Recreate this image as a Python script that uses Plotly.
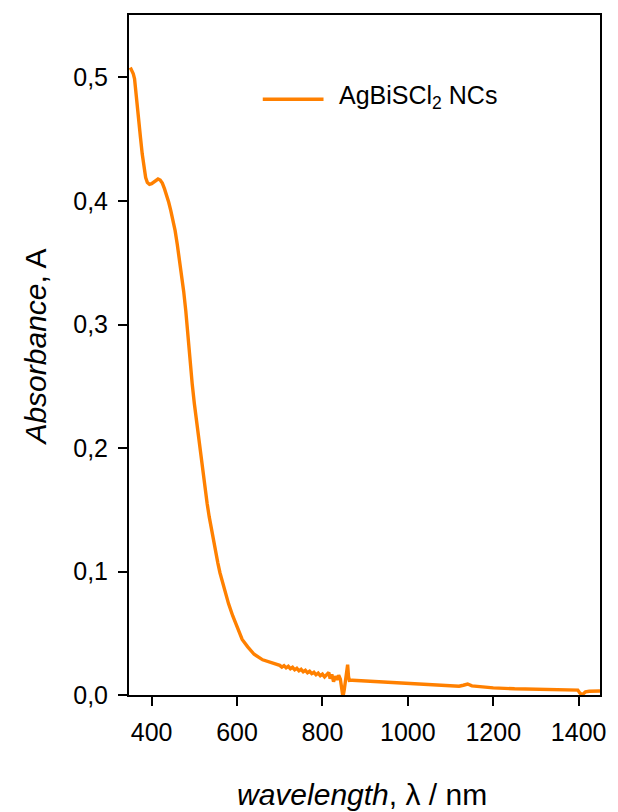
import plotly.graph_objects as go

# UV-Vis-NIR absorption spectrum of AgBiSCl2 nanocrystals
wavelength_nm = [
    350, 353, 357, 360, 363, 366, 370, 374, 378, 382, 386, 390, 395, 400,
    405, 410, 415, 420, 425, 430, 435, 440, 445, 450, 455, 460, 465, 470,
    475, 480, 485, 490, 495, 500, 505, 510, 515, 520, 525, 530, 535, 540,
    545, 550, 555, 560, 570, 580, 590, 600, 612, 625, 640, 660, 680, 700,
    705, 710, 715, 720, 725, 730, 735, 740, 745, 750, 755, 760, 765, 770,
    775, 780, 785, 790, 795, 800, 805, 810, 815, 818, 822, 826, 830, 834,
    838, 842, 845, 848, 851, 854, 857, 859, 861, 863, 870, 880, 900, 950,
    1000, 1050, 1100, 1120, 1130, 1140, 1150, 1170, 1200, 1250, 1300, 1350,
    1390, 1398, 1403, 1407, 1411, 1416, 1425, 1440, 1450,
]
absorbance = [
    0.508, 0.506, 0.503, 0.499, 0.490, 0.480, 0.466, 0.451, 0.438, 0.427,
    0.419, 0.415, 0.4135, 0.414, 0.4155, 0.417, 0.4178, 0.417, 0.4145, 0.410,
    0.405, 0.399, 0.392, 0.385, 0.376, 0.365, 0.353, 0.340, 0.327, 0.311,
    0.290, 0.270, 0.252, 0.236, 0.222, 0.208, 0.194, 0.180, 0.167, 0.155,
    0.144, 0.134, 0.124, 0.115, 0.107, 0.099, 0.086, 0.074, 0.064, 0.056,
    0.045, 0.039, 0.033, 0.0285, 0.026, 0.024,
    0.0226, 0.0238, 0.0220, 0.0232, 0.0213, 0.0224, 0.0204, 0.0216, 0.0196,
    0.0208, 0.0188, 0.0200, 0.0180, 0.0192, 0.0173, 0.0184, 0.0164, 0.0177,
    0.0156, 0.0169, 0.0146, 0.0162, 0.0182, 0.0133, 0.0167, 0.0108, 0.0152,
    0.0123, 0.0160, 0.0128, 0.0060, -0.0015, 0.0040, 0.0120, 0.0200, 0.0245,
    0.0150, 0.0118, 0.0120, 0.0118, 0.0111, 0.0100,
    0.0090, 0.0082, 0.0072, 0.0071, 0.0079, 0.0089, 0.0074, 0.0066, 0.0058,
    0.0050, 0.0048, 0.0047,
    0.0046, 0.0040, 0.0015, 0.0003, 0.0010, 0.0025, 0.0030, 0.0031, 0.0032,
]

series_name = "AgBiSCl<sub>2</sub> NCs"
line_color = "#ff8000"

x_ticks = [400, 600, 800, 1000, 1200, 1400]
y_ticks = [0.0, 0.1, 0.2, 0.3, 0.4, 0.5]

fig = go.Figure()
fig.add_trace(go.Scatter(
    x=wavelength_nm, y=absorbance, mode="lines",
    line=dict(color=line_color, width=3.4),
    showlegend=False,
))

tick_font = dict(family="Liberation Sans, Arial, sans-serif", size=25, color="black")
title_font = dict(family="Liberation Sans, Arial, sans-serif", size=30, color="black")

axis_common = dict(
    showline=True, linecolor="black", linewidth=2, mirror=True,
    ticks="outside", ticklen=9, tickwidth=1.6, tickcolor="black",
    showgrid=False, zeroline=False, tickfont=tick_font,
)

fig.update_xaxes(range=[347, 1450], tickvals=x_ticks, ticklabelstandoff=5, **axis_common)
fig.update_yaxes(range=[0, 0.5506], tickvals=y_ticks, tickformat=".1f",
                 ticklabelstandoff=5, **axis_common)

# legend drawn as a line sample with its label
fig.add_shape(type="line", xref="paper", yref="paper",
              x0=0.284, x1=0.413, y0=0.876, y1=0.876,
              line=dict(color=line_color, width=3.4))
fig.add_annotation(xref="paper", yref="paper", x=0.442, y=0.880,
                   xanchor="left", yanchor="middle", showarrow=False,
                   text=series_name,
                   font=dict(family="Liberation Sans, Arial, sans-serif", size=25, color="black"))

# axis titles
fig.add_annotation(xref="paper", yref="paper", x=0.495, y=-0.147,
                   xanchor="center", yanchor="middle", showarrow=False,
                   text="<i>wavelength</i>, λ / nm", font=title_font)
fig.add_annotation(xref="paper", yref="paper", x=-0.198, y=0.512,
                   xanchor="center", yanchor="middle", showarrow=False,
                   textangle=-90, text="<i>Absorbance</i>, A", font=title_font)

fig.update_layout(
    width=618, height=812,
    margin=dict(l=129, r=14, t=15, b=117),
    paper_bgcolor="white", plot_bgcolor="white",
    separators=",.",
)

fig.write_html("out.html")
